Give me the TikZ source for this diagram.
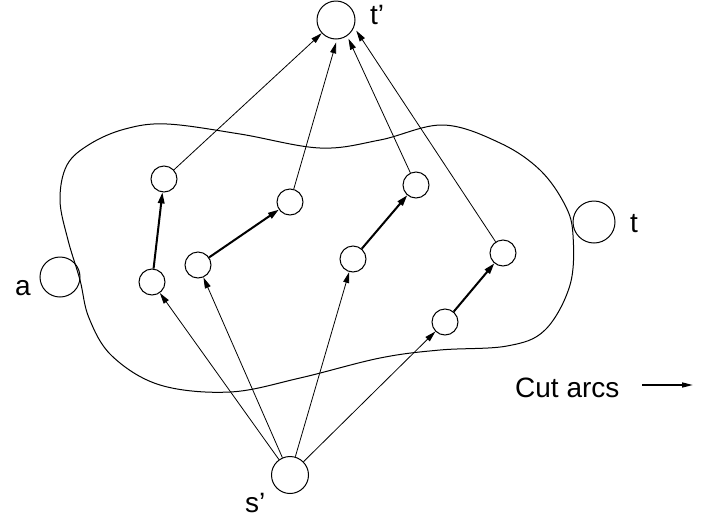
\documentclass[tikz,border=0pt]{standalone}
\usepackage{fontspec}
\setmainfont{Liberation Sans}
\usetikzlibrary{arrows.meta}
\begin{document}
\begin{tikzpicture}[x=1pt,y=-1pt,
  vsmall/.style={circle,draw,line width=1pt,minimum size=26pt,inner sep=0pt},
  vbig/.style={circle,draw,line width=1pt,inner sep=0pt},
  lab/.style={anchor=base west,inner sep=0pt,font=\fontsize{28}{30}\selectfont},
  arc/.style={line width=0.8pt,-{Triangle[length=11pt,width=6pt]}},
  cutarc/.style={line width=2pt,-{Triangle[length=11pt,width=6.5pt]}},
  blob/.style={line width=1pt}]
\useasboundingbox (0,0) rectangle (715,520);
% region
\draw[blob] plot[smooth cycle,tension=0.6] coordinates {
 (167,124) (240,134) (320,148) (380,140) (443,125) (500,143) (540,170)
 (565,205) (573,235) (570,285) (545,330) (507,346) (440,350) (380,358)
 (300,378) (230,392) (160,385) (112,356) (89,318) (80,280) (68,240)
 (60,200) (67,165) (90,144) (125,129)};
% big vertices
\node[vbig,minimum size=38pt] (tp) at (336,20) {};
\node[vbig,minimum size=37pt] (sp) at (290,475) {};
\node[vbig,minimum size=40pt] (a) at (60,277) {};
\node[vbig,minimum size=42pt] (t) at (594,222) {};
% small vertices
\node[vsmall] (n1) at (164,179) {};
\node[vsmall] (n2) at (152,282) {};
\node[vsmall] (n3) at (198,265) {};
\node[vsmall] (n4) at (290,202) {};
\node[vsmall] (n5) at (353,259) {};
\node[vsmall] (n6) at (416,185) {};
\node[vsmall] (n7) at (445,322) {};
\node[vsmall] (n8) at (503,253) {};
% labels
\node[lab] (ltp) at (370,24) {t'};
\node[lab] (lsp) at (245,512) {s'};
\node[lab] (la) at (15,295) {a};
\node[lab] (lt) at (630,232) {t};
\node[lab] (lcut) at (515,397) {Cut arcs};
% cut arcs
\draw[cutarc] (n2) -- (n1);
\draw[cutarc] (n3) -- (n4);
\draw[cutarc] (n5) -- (n6);
\draw[cutarc] (n7) -- (n8);
% arcs into t'
\draw[arc] (n1) -- (tp);
\draw[arc,shorten >=3pt] (n4) -- (tp.-87);
\draw[arc,shorten >=3pt] (n6) -- (tp.-55);
\draw[arc,shorten >=4pt] (n8) -- (tp.-22);
% arcs from s'
\draw[arc] (sp) -- (n2);
\draw[arc] (sp) -- (n3);
\draw[arc] (sp) -- (n5);
\draw[arc] (sp) -- (n7);
% legend arrow
\coordinate (lg1) at (642,385);
\coordinate (lg2) at (693,385);
\draw[line width=1.5pt,-{Triangle[length=11pt,width=5pt]}] (lg1) -- (lg2);
\end{tikzpicture}
\end{document}
